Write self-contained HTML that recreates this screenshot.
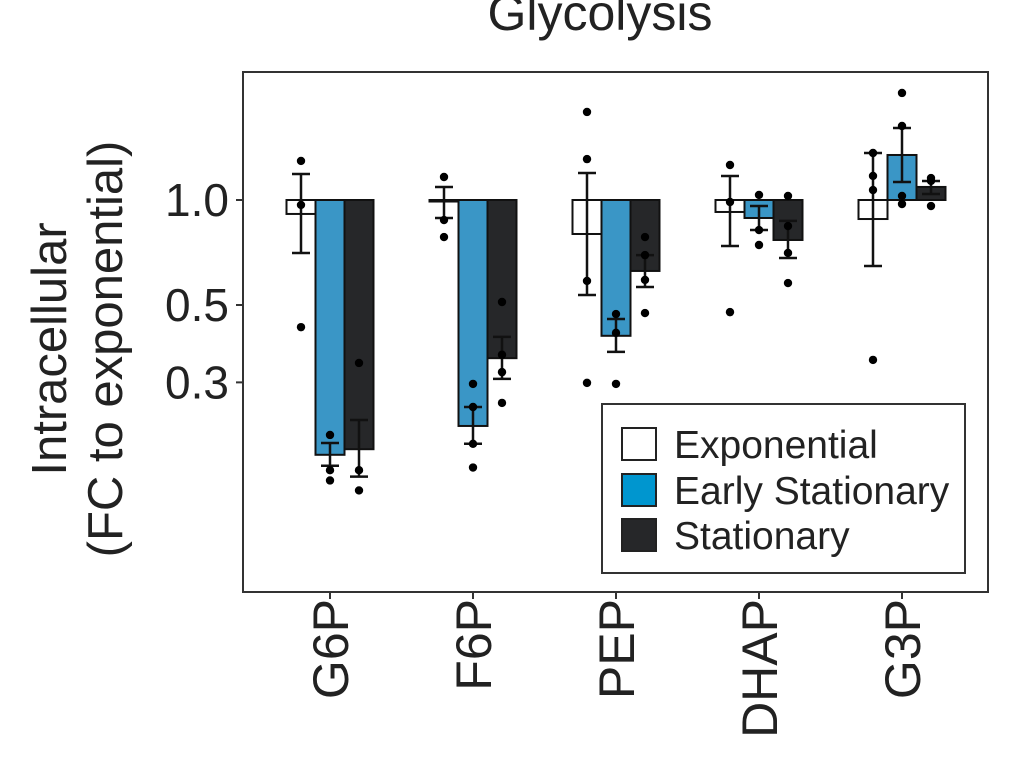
<!DOCTYPE html>
<html><head><meta charset="utf-8"><style>body{margin:0;background:#fff}svg{display:block;font-family:"Liberation Sans",Arial,sans-serif}</style></head>
<body>
<svg id="chart" width="1010" height="760" viewBox="0 0 1010 760" xmlns="http://www.w3.org/2000/svg">
<text x="600" y="30" font-size="50" text-anchor="middle" fill="#222">Glycolysis</text>
<rect x="243" y="72" width="745" height="520" fill="none" stroke="#333" stroke-width="2"/>
<g font-size="49" fill="#222" text-anchor="middle">
<text transform="translate(66,349) rotate(-90)">Intracellular</text>
<text transform="translate(122,349) rotate(-90)">(FC to exponential)</text>
</g>
<g id="marks"></g>
<g>
<rect x="602" y="404" width="363" height="169" fill="#fff" stroke="#333" stroke-width="2"/>
<rect x="622" y="428" width="34" height="32" fill="#fff" stroke="#222" stroke-width="2"/>
<rect x="622" y="474" width="34" height="32" fill="#0096cf" stroke="#222" stroke-width="2"/>
<rect x="622" y="519" width="34" height="32" fill="#262729" stroke="#222" stroke-width="2"/>
<text x="674" y="458" font-size="39" fill="#222">Exponential</text>
<text x="674" y="504" font-size="39" fill="#222">Early Stationary</text>
<text x="674" y="549" font-size="39" fill="#222">Stationary</text>
</g>
</svg>
<script>
const categories=["G6P","F6P","PEP","DHAP","G3P"];
const seriesNames=["Exponential","Early Stationary","Stationary"];
const expMean=[0.912,0.99,0.799,0.924,0.882];
const earlyMean=[0.186,0.225,0.408,0.888,1.346];
const statMean=[0.193,0.352,0.626,0.768,1.09];
const expLo=[0.705,0.888,0.534,0.738,0.647], expHi=[1.187,1.09,1.195,1.172,1.364];
const earlyLo=[0.173,0.2,0.367,0.82,1.126], earlyHi=[0.201,0.255,0.456,0.961,1.608];
const statLo=[0.161,0.307,0.563,0.682,1.04], statHi=[0.234,0.405,0.695,0.871,1.134];
const expPts=[[1.294,0.968,0.432],[1.164,0.876,0.783],[1.788,1.31,0.586,0.299],[1.26,0.987,0.477],[1.364,1.172,1.068,0.348]];
const earlyPts=[[0.212,0.168,0.157],[0.297,0.255,0.2,0.171],[0.471,0.416,0.297],[1.034,0.82,0.743],[2.027,1.63,1.027,0.974]];
const statPts=[[0.341,0.168,0.147],[0.51,0.36,0.321,0.262],[0.783,0.695,0.59,0.474],[1.027,0.842,0.705,0.578],[1.156,1.134,0.961]];
const yTicks=[1.0,0.5,0.3];
const yTickLabels=["1.0","0.5","0.3"];

const NS="http://www.w3.org/2000/svg";
const svg=document.getElementById('chart'), g=document.getElementById('marks');
function y(v){return 200-348.8*Math.log10(v);}
function xc(i){return 330+143*i;}
const bw=29;
function el(t,a){const e=document.createElementNS(NS,t);for(const k in a)e.setAttribute(k,a[k]);return e;}
yTicks.forEach((t,i)=>{
  const l=el('line',{x1:236,x2:243,y1:y(t),y2:y(t),stroke:'#333','stroke-width':2});
  
  
  g.appendChild(l);
  const tx=el('text',{x:229,y:y(t)+16,'font-size':46,'text-anchor':'end',fill:'#222'});
  tx.textContent=yTickLabels[i];
  
  
  g.appendChild(tx);
});
const series=[[expMean,expLo,expHi,expPts,'#fff'],[earlyMean,earlyLo,earlyHi,earlyPts,'#3a96c6'],[statMean,statLo,statHi,statPts,'#262729']];
categories.forEach((c,i)=>{
  const tk=el('line',{x1:xc(i),x2:xc(i),y1:592,y2:599,stroke:'#333','stroke-width':2});
  
  
  g.appendChild(tk);
  const lb=el('text',{transform:`translate(${xc(i)+18},599) rotate(-90)`,'font-size':50,'text-anchor':'end',fill:'#222'});
  lb.textContent=c;
  
  
  g.appendChild(lb);
  series.forEach((s,j)=>{
    const cx=xc(i)+(j-1)*bw, m=s[0][i];
    const top=Math.min(y(m),y(1)), h=Math.abs(y(m)-y(1));
    const r=el('rect',{x:cx-bw/2,y:top,width:bw,height:Math.max(h,1),fill:s[4],stroke:'#111','stroke-width':2});
    
    
    g.appendChild(r);
    const eg=el('g',{stroke:'#111','stroke-width':2.5});
    
    
    eg.appendChild(el('line',{x1:cx,x2:cx,y1:y(s[1][i]),y2:y(s[2][i])}));
    eg.appendChild(el('line',{x1:cx-9,x2:cx+9,y1:y(s[1][i]),y2:y(s[1][i])}));
    eg.appendChild(el('line',{x1:cx-9,x2:cx+9,y1:y(s[2][i]),y2:y(s[2][i])}));
    g.appendChild(eg);
    s[3][i].forEach(p=>{
      const d=el('circle',{cx:cx,cy:y(p),r:4.2,fill:'#000'});
      
      
      g.appendChild(d);
    });
  });
});
</script>
</body></html>
